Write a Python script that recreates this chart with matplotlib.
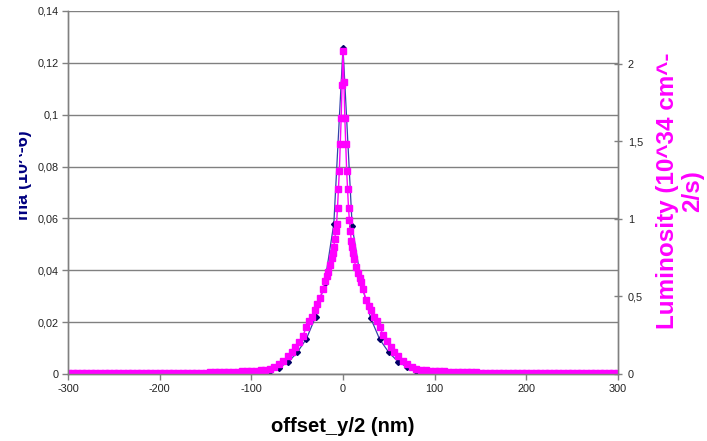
import matplotlib
matplotlib.use("Agg")
import matplotlib.pyplot as plt
from matplotlib.patches import Rectangle

plt.rcParams['font.family'] = ['Liberation Sans', 'DejaVu Sans']

# blue series (left axis), every 10 nm
offset_blue = [-300, -290, -280, -270, -260, -250, -240, -230, -220, -210,
               -200, -190, -180, -170, -160, -150, -140, -130, -120, -110,
               -100, -90, -80, -70, -60, -50, -40, -30, -20, -10,
               0,
               10, 20, 30, 40, 50, 60, 70, 80, 90, 100,
               110, 120, 130, 140, 150, 160, 170, 180, 190, 200,
               210, 220, 230, 240, 250, 260, 270, 280, 290, 300]
val_blue = [0.0, 0.0, 0.0, 0.0, 0.0, 0.0, 0.0, 0.0, 0.0, 0.0,
            0.0, 0.0, 0.0, 0.0, 0.0, 0.0001, 0.0001, 0.0002, 0.0002, 0.0003,
            0.0005, 0.0008, 0.0013, 0.0025, 0.0045, 0.0083, 0.0135, 0.022, 0.035, 0.058,
            0.1258,
            0.057, 0.035, 0.0217, 0.0134, 0.0083, 0.0048, 0.0026, 0.0013, 0.0008, 0.0005,
            0.0003, 0.0002, 0.0002, 0.0001, 0.0001, 0.0, 0.0, 0.0, 0.0, 0.0,
            0.0, 0.0, 0.0, 0.0, 0.0, 0.0, 0.0, 0.0, 0.0, 0.0]

# magenta series (right axis)
offset_lumi = [-300, -295, -290, -285, -280, -275, -270, -265, -260, -255,
               -250, -245, -240, -235, -230, -225, -220, -215, -210, -205,
               -200, -195, -190, -185, -180, -175, -170, -165, -160, -155,
               -150, -145, -140, -135, -130, -125, -120, -115, -110, -105,
               -100, -95, -90, -85, -80, -75, -70, -65, -60, -56,
               -52, -48, -44, -40, -37, -34, -31, -28, -25, -22,
               -20, -18, -16, -14, -12, -11, -10, -9, -8, -7,
               -6, -5, -4, -3, -2, -1, 0, 1, 2, 3,
               4, 5, 6, 7, 8, 9, 10, 11, 12, 14,
               16, 18, 20, 22, 25, 28, 31, 34, 37, 40,
               44, 48, 52, 56, 60, 65, 70, 75, 80, 85,
               90, 95, 100, 105, 110, 115, 120, 125, 130, 135,
               140, 145, 150, 155, 160, 165, 170, 175, 180, 185,
               190, 195, 200, 205, 210, 215, 220, 225, 230, 235,
               240, 245, 250, 255, 260, 265, 270, 275, 280, 285,
               290, 295, 300]
val_lumi = [0.006, 0.006, 0.006, 0.006, 0.006, 0.006, 0.006, 0.006, 0.006, 0.006,
            0.006, 0.006, 0.006, 0.006, 0.006, 0.006, 0.006, 0.006, 0.006, 0.006,
            0.006, 0.008, 0.008, 0.008, 0.008, 0.008, 0.008, 0.008, 0.008, 0.008,
            0.008, 0.010, 0.010, 0.010, 0.010, 0.011, 0.013, 0.015, 0.017, 0.018,
            0.019, 0.021, 0.025, 0.029, 0.035, 0.046, 0.065, 0.085, 0.115, 0.145,
            0.175, 0.205, 0.245, 0.30, 0.34, 0.37, 0.41, 0.45, 0.49, 0.55,
            0.60, 0.63, 0.66, 0.70, 0.75, 0.78, 0.82, 0.87, 0.92, 0.97,
            1.07, 1.19, 1.31, 1.48, 1.65, 1.86, 2.08, 1.88, 1.65, 1.48,
            1.31, 1.19, 1.07, 0.99, 0.92, 0.86, 0.82, 0.78, 0.74, 0.69,
            0.65, 0.62, 0.59, 0.545, 0.48, 0.44, 0.41, 0.37, 0.34, 0.30,
            0.25, 0.21, 0.175, 0.145, 0.115, 0.085, 0.065, 0.046, 0.035, 0.029,
            0.025, 0.021, 0.019, 0.018, 0.017, 0.015, 0.013, 0.011, 0.010, 0.010,
            0.010, 0.010, 0.008, 0.008, 0.008, 0.008, 0.008, 0.008, 0.008, 0.008,
            0.008, 0.008, 0.006, 0.006, 0.006, 0.006, 0.006, 0.006, 0.006, 0.006,
            0.006, 0.006, 0.006, 0.006, 0.006, 0.006, 0.006, 0.006, 0.006, 0.006,
            0.006, 0.006, 0.006]

x_ticks = [-300, -200, -100, 0, 100, 200, 300]
left_ticks = [0, 0.02, 0.04, 0.06, 0.08, 0.1, 0.12, 0.14]
left_labels = ['0', '0,02', '0,04', '0,06', '0,08', '0,1', '0,12', '0,14']
right_ticks = [0, 0.5, 1, 1.5, 2]
right_labels = ['0', '0,5', '1', '1,5', '2']

W, H = 707, 441
fig = plt.figure(figsize=(W / 100, H / 100), dpi=100)
ax = fig.add_axes([68 / W, (H - 374) / H, 550 / W, 363 / H])
ax2 = ax.twinx()

grey = '#808080'
ax.plot(offset_blue, val_blue, color='#3344aa', lw=0.9, marker='D',
        markersize=3, markerfacecolor='#000066', markeredgecolor='#000066')
ax2.plot(offset_lumi, val_lumi, color='#ff00ff', lw=1.0, marker='s',
         markersize=4.3, markerfacecolor='#ff00ff', markeredgecolor='#ff00ff')

ax.set_xlim(-300, 300)
ax.set_ylim(0, 0.14)
ax2.set_ylim(0, 2.34)

ax.set_xticks(x_ticks)
ax.set_xticklabels([str(t) for t in x_ticks])
ax.set_yticks(left_ticks)
ax.set_yticklabels(left_labels)
ax2.set_yticks(right_ticks)
ax2.set_yticklabels(right_labels)

ax.yaxis.grid(True, color=grey, lw=1)
ax.set_axisbelow(True)

for a in (ax, ax2):
    a.spines['top'].set_visible(False)
    for s in ('left', 'right', 'bottom'):
        a.spines[s].set_color(grey)
        a.spines[s].set_linewidth(1)
ax.tick_params(axis='both', colors=grey, labelcolor='#222222', labelsize=7.8,
               length=4, width=1, direction='out', pad=3)
ax2.tick_params(axis='y', colors=grey, labelcolor='#222222', labelsize=7.8,
                length=6, width=1, direction='inout', pad=4)

ax.set_xlabel('offset_y/2 (nm)', fontsize=14.5, fontweight='bold', labelpad=17)

fig.text(680 / W, 1 - 191 / H, 'Luminosity (10^34 cm^-\n2/s)', rotation=90,
         ha='center', va='center', color='#ff00ff', fontsize=17.5,
         fontweight='bold', linespacing=1.15)

# left axis title is cut off in the original
lt = fig.text(28 / W, 1 - 175 / H, 'ma (10^-6)', rotation=90, rotation_mode='anchor',
              ha='center', va='baseline', color='#000080', fontsize=13,
              fontweight='bold')
clip = Rectangle((19 / W, 0), 40 / W, 1, transform=fig.transFigure)
lt.set_clip_path(clip)

fig.savefig('out.png', dpi=100)
